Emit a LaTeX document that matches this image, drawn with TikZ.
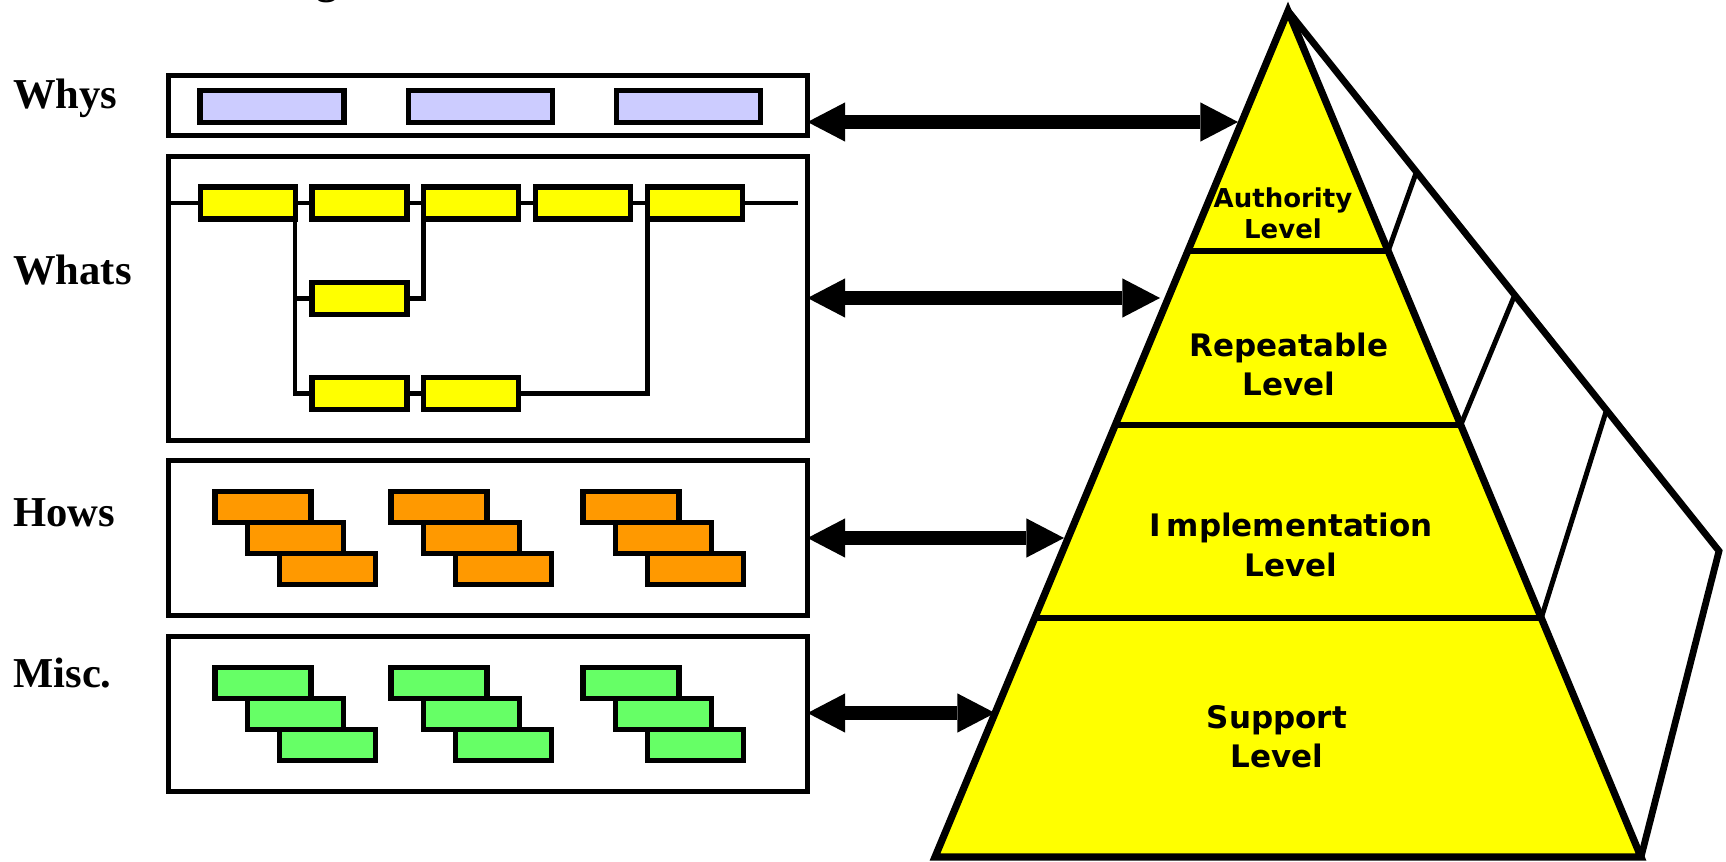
\documentclass[tikz,border=0pt]{standalone}
\usepackage{fontspec}
\setmainfont{Liberation Serif}
\newfontfamily\levelfont{DejaVu Sans}
\usetikzlibrary{arrows.meta,calc}
\definecolor{whyfill}{HTML}{CCCCFF}
\definecolor{whatfill}{HTML}{FFFF00}
\definecolor{howfill}{HTML}{FF9900}
\definecolor{miscfill}{HTML}{66FF66}
\definecolor{levelfill}{HTML}{FFFF00}
\begin{document}
\begin{tikzpicture}[x=0.5pt,y=-0.5pt,
  panel/.style={draw, line width=2.6pt, inner sep=0pt, outer sep=0pt, minimum width=319.5pt},
  blk/.style={draw, line width=2.6pt, inner sep=0pt, outer sep=0pt},
  whyblk/.style={blk, fill=whyfill, minimum width=72pt, minimum height=16pt},
  whatblk/.style={blk, fill=whatfill, minimum width=47.5pt, minimum height=16pt},
  howblk/.style={blk, fill=howfill, minimum width=48pt, minimum height=15.5pt},
  miscblk/.style={blk, fill=miscfill, minimum width=48pt, minimum height=15.5pt},
  flow/.style={line width=2.3pt},
  rowlabel/.style={anchor=base west, inner sep=0pt, font=\bfseries\fontsize{21.3pt}{24pt}\selectfont},
  bigtip/.tip={Triangle[length=18.85pt,width=19.65pt,line width=0pt]},
  link/.style={line width=6.65pt, bigtip-bigtip},
  levelname/.style={align=center, inner sep=0pt, font=\levelfont\bfseries\fontsize{15.5pt}{19.5pt}\selectfont},
]
\useasboundingbox (0,0) rectangle (1726,862);

% title descender left over at the top edge
\node[anchor=base, inner sep=0pt, font=\bfseries\fontsize{21.3pt}{24pt}\selectfont] (title) at (327,-6) {g};

% row labels
\node[rowlabel] (lWhy)  at (13,108) {Whys};
\node[rowlabel] (lWhat) at (13,284) {Whats};
\node[rowlabel] (lHow)  at (13,526) {Hows};
\node[rowlabel] (lMisc) at (13,687) {Misc.};

% panels
\node[panel, minimum height=30pt]   (pWhy)  at (488,105.5) {};
\node[panel, minimum height=142pt]  (pWhat) at (488,298.5) {};
\node[panel, minimum height=77.5pt] (pHow)  at (488,538) {};
\node[panel, minimum height=77.5pt] (pMisc) at (488,714) {};

% whys
\node[whyblk] (why1) at (272,106.3) {};
\node[whyblk] (why2) at (480.3,106.3) {};
\node[whyblk] (why3) at (688.6,106.3) {};

% whats: process flow
\node[whatblk] (r1) at (247.6,203) {};
\node[whatblk] (r2) at (359.4,203) {};
\node[whatblk] (r3) at (471.2,203) {};
\node[whatblk] (r4) at (583,203) {};
\node[whatblk] (r5) at (694.8,203) {};
\node[whatblk] (m1) at (359.4,298.5) {};
\node[whatblk] (b1) at (359.4,393.4) {};
\node[whatblk] (b2) at (471.2,393.4) {};
\coordinate (flowEnd) at (798,203);

\draw[flow] (pWhat.west |- r1.west) -- (r1.west);
\draw[flow] (r1.east) -- (r2.west);
\draw[flow] (r2.east) -- (r3.west);
\draw[flow] (r3.east) -- (r4.west);
\draw[flow] (r4.east) -- (r5.west);
\draw[flow] (r5.east) -- (flowEnd);
\draw[flow] (r1.south east) -- (r1.east |- b1.west) -- (b1.west);
\draw[flow] (r1.east |- m1.west) -- (m1.west);
\draw[flow] (m1.east) -- (r3.west |- m1.east) -- (r3.south west);
\draw[flow] (b1.east) -- (b2.west);
\draw[flow] (b2.east) -- (r5.west |- b2.east) -- (r5.south west);

% hows and misc: stepped stacks
\foreach \g/\x in {1/263,2/439,3/631} {
  \node[howblk] (how\g a) at (\x,507) {};
  \node[howblk] (how\g b) at ({\x+32.3},538) {};
  \node[howblk] (how\g c) at ({\x+64.6},569) {};
  \node[miscblk] (misc\g a) at (\x,683) {};
  \node[miscblk] (misc\g b) at ({\x+32.3},714) {};
  \node[miscblk] (misc\g c) at ({\x+64.6},745) {};
}

% pyramid geometry
\coordinate (apex) at (1288,11);
\coordinate (bl) at (935,857);
\coordinate (br) at (1641,857);
\coordinate (back) at (1719,551);
\coordinate (L1) at ($(apex)!0.2837!(bl)$);
\coordinate (R1) at ($(apex)!0.2837!(br)$);
\coordinate (L2) at ($(apex)!0.4894!(bl)$);
\coordinate (R2) at ($(apex)!0.4894!(br)$);
\coordinate (L3) at ($(apex)!0.7175!(bl)$);
\coordinate (R3) at ($(apex)!0.7175!(br)$);
\coordinate (B1) at ($(apex)!0.298!(back)$);
\coordinate (B2) at ($(apex)!0.526!(back)$);
\coordinate (B3) at ($(apex)!0.739!(back)$);

% side face
\draw[line width=3.4pt, line join=miter] (apex) -- (back) -- (br);
\draw[line width=2.5pt] (R1) -- (B1);
\draw[line width=2.5pt] (R2) -- (B2);
\draw[line width=2.5pt] (R3) -- (B3);

% front face with levels
\draw[fill=levelfill, line width=3.6pt, line join=miter] (apex) -- (bl) -- (br) -- cycle;
\draw[line width=3pt] (L1) -- (R1);
\draw[line width=3pt] (L2) -- (R2);
\draw[line width=3pt] (L3) -- (R3);

\node[levelname, font=\levelfont\bfseries\fontsize{13pt}{15.5pt}\selectfont] (tAuth) at (1283,213.5) {Authority\\Level};
\node[levelname] (tRep)  at (1289,364) {Repeatable\\Level};
\node[levelname, font=\levelfont\bfseries\fontsize{15.5pt}{20pt}\selectfont] (tImp) at (1291,545) {I\kern3pt mplementation\\Level};
\node[levelname] (tSup)  at (1277,737) {Support\\Level};

% links between panels and levels
\coordinate (kWhy)  at (1238,122);
\coordinate (kWhat) at (1160,298);
\coordinate (kHow)  at (1064,538);
\coordinate (kMisc) at (995,713);
\draw[link] (pWhy.east |- kWhy) -- (kWhy);
\draw[link] (pWhat.east |- kWhat) -- (kWhat);
\draw[link] (pHow.east |- kHow) -- (kHow);
\draw[link] (pMisc.east |- kMisc) -- (kMisc);
\end{tikzpicture}
\end{document}
